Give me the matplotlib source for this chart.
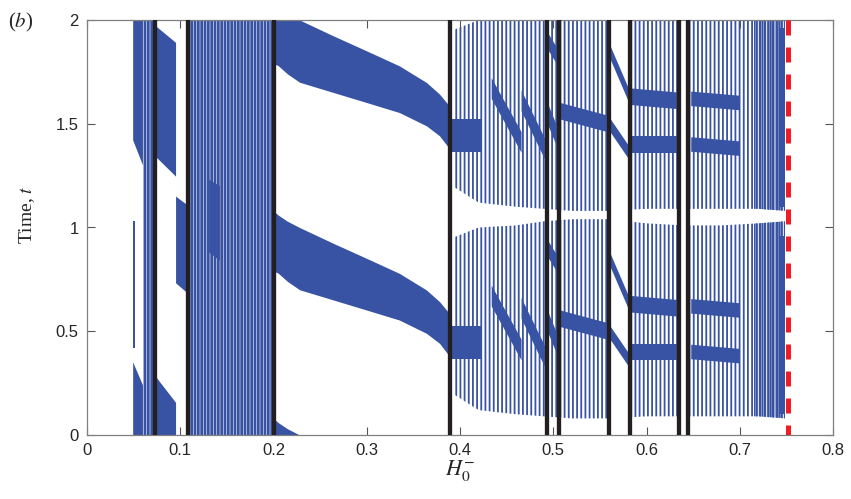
import numpy as np
import matplotlib
matplotlib.use("Agg")
import matplotlib.pyplot as plt
from matplotlib.patches import Polygon, Rectangle

BLUE = "#3853a3"
plt.rcParams["hatch.color"] = BLUE
plt.rcParams["mathtext.fontset"] = "stix"

# ── data ──────────────────────────────────────────────────────────────────────
black_x = [0.0727, 0.1088, 0.2007, 0.3898, 0.4928, 0.5062, 0.5603, 0.5818, 0.6353, 0.6441]
red_x = 0.7517

# main smooth band (period 1 in t)
band_x  = [0.200, 0.205, 0.215, 0.228, 0.264, 0.300, 0.335, 0.364, 0.378, 0.3878, 0.390]
band_lo = [0.79, 0.78, 0.74, 0.70, 0.651, 0.602, 0.554, 0.490, 0.442, 0.385, 0.370]
band_hi = [1.08, 1.06, 1.03, 1.00, 0.924, 0.851, 0.779, 0.699, 0.643, 0.590, 0.580]

# solid pieces: (x0, x1, lo_left, hi_left, lo_right, hi_right)
solid_quads = [
    (0.0495, 0.0600, 1.42, 2.00, 1.30, 2.00),
    (0.0495, 0.0600, 0.00, 0.35, 0.00, 0.24),
    (0.0493, 0.0512, 0.42, 1.03, 0.42, 1.03),
    (0.0740, 0.0955, 1.34, 1.97, 1.245, 1.89),
    (0.0740, 0.0955, 0.00, 0.28, 0.00, 0.155),
    (0.0955, 0.1100, 0.731, 1.149, 0.675, 1.100),
    (0.1310, 0.1425, 0.88, 1.23, 0.84, 1.20),
]

# dense strands (upper period): (x0, x1, centre0, centre1, thickness)
strands = [
    (0.391, 0.423, 1.445, 1.445, 0.16),
    (0.434, 0.466, 1.67, 1.41, 0.10),
    (0.466, 0.491, 1.61, 1.38, 0.10),
    (0.494, 0.505, 1.55, 1.43, 0.10),
    (0.494, 0.505, 1.90, 1.82, 0.08),
    (0.508, 0.558, 1.56, 1.50, 0.08),
    (0.561, 0.5806, 1.847, 1.642, 0.064),
    (0.561, 0.5806, 1.494, 1.365, 0.064),
    (0.584, 0.635, 1.63, 1.61, 0.08),
    (0.584, 0.635, 1.40, 1.40, 0.08),
    (0.648, 0.700, 1.62, 1.60, 0.07),
    (0.648, 0.700, 1.40, 1.38, 0.07),
    (0.7435, 0.749, 1.53, 1.53, 0.86),
]
strand_solid = [False, False, False, True, False, False, True, True,
                False, False, False, False, True]

# striped full-height strips at small H
stripe_x0 = [0.0600, 0.1100]
stripe_x1 = [0.0720, 0.2000]

# scattered cloud (lower period) outline
cloud_x   = [0.392, 0.420, 0.460, 0.490, 0.520, 0.560, 0.600, 0.640, 0.680, 0.720, 0.749]
cloud_top = [0.95, 1.00, 1.01, 1.03, 1.04, 1.04, 1.02, 1.01, 1.01, 1.02, 1.03]
cloud_bot = [0.20, 0.12, 0.10, 0.09, 0.08, 0.08, 0.09, 0.09, 0.09, 0.09, 0.08]
cloud_sec0 = [0.392, 0.494, 0.508, 0.583, 0.646, 0.715]
cloud_sec1 = [0.492, 0.505, 0.559, 0.635, 0.749, 0.749]
cloud_hatch = ["||||", "||||", "||||", "||||", "||||", "||||||"]

xticks = [0, 0.1, 0.2, 0.3, 0.4, 0.5, 0.6, 0.7, 0.8]
yticks = [0, 0.5, 1, 1.5, 2]

# ── figure ────────────────────────────────────────────────────────────────────
fig = plt.figure(figsize=(8.51, 4.99), dpi=100)
ax = fig.add_axes([87 / 851, 64 / 499, 746 / 851, 415 / 499])

for k in (-1, 0, 1):
    ax.fill_between(band_x, np.array(band_lo) + k, np.array(band_hi) + k,
                    color=BLUE, lw=0, zorder=2)

for x0, x1, l0, h0, l1, h1 in solid_quads:
    ax.add_patch(Polygon([(x0, l0), (x1, l1), (x1, h1), (x0, h0)],
                         closed=True, fc=BLUE, ec="none", lw=0, zorder=2))

with plt.rc_context({"hatch.linewidth": 1.6}):
    for k in (0, -1):
        for (x0, x1, c0, c1, w), solid in zip(strands, strand_solid):
            pts = [(x0, c0 - w / 2 + k), (x1, c1 - w / 2 + k),
                   (x1, c1 + w / 2 + k), (x0, c0 + w / 2 + k)]
            if solid:
                ax.add_patch(Polygon(pts, closed=True, fc=BLUE, ec="none", lw=0, zorder=2))
            else:
                ax.add_patch(Polygon(pts, closed=True, fc="none", ec=BLUE, lw=0,
                                     hatch="||||||||", zorder=2))

with plt.rc_context({"hatch.linewidth": 2.0}):
    for x0, x1 in zip(stripe_x0, stripe_x1):
        ax.add_patch(Rectangle((x0, 0), x1 - x0, 2, fc="none", ec=BLUE, lw=0,
                               hatch="|||||", zorder=1))

cloud = np.array(list(zip(cloud_x, cloud_bot)) + list(zip(cloud_x[::-1], cloud_top[::-1])))
with plt.rc_context({"hatch.linewidth": 1.3}):
    for s0, s1, h in zip(cloud_sec0, cloud_sec1, cloud_hatch):
        clip = Rectangle((s0, 0), s1 - s0, 2, transform=ax.transData)
        for k in (0, 1):
            p = Polygon(cloud + [0, k], closed=True, fc="none", ec=BLUE, lw=0,
                        hatch=h, zorder=1)
            ax.add_patch(p)
            p.set_clip_path(clip)

for x in black_x:
    ax.plot([x, x], [0, 2], color="#231f20", lw=3.1, zorder=3, solid_capstyle="butt")
ax.plot([red_x, red_x], [2, 0], color="#ee1c25", lw=3.6, dashes=(3, 2.4), zorder=4)

ax.set_xlim(0, 0.8)
ax.set_ylim(0, 2)
ax.set_xticks(xticks)
ax.set_xticklabels(["0", "0.1", "0.2", "0.3", "0.4", "0.5", "0.6", "0.7", "0.8"])
ax.set_yticks(yticks)
ax.set_yticklabels(["0", "0.5", "1", "1.5", "2"])
ax.tick_params(direction="in", length=6, width=0.8, color="#555555",
               top=True, right=True, labelsize=12, labelcolor="#262626", pad=6)
for lab in ax.get_xticklabels() + ax.get_yticklabels():
    lab.set_family("Liberation Sans")
for sp in ax.spines.values():
    sp.set_color("#808080")
    sp.set_linewidth(0.9)

ax.set_ylabel("Time, $t$", fontsize=14, family="Liberation Serif", color="#262626")
ax.yaxis.set_label_coords(-0.067, 0.53)
ax.set_xlabel("$H_0^{-}$", fontsize=16, color="#262626")
ax.xaxis.set_label_coords(0.5, -0.055)

fig.text(8 / 851, 1 - 34 / 499, "($b$)", fontsize=15, family="Liberation Serif",
         color="#262626", va="bottom")

fig.savefig("out.png", dpi=100)
